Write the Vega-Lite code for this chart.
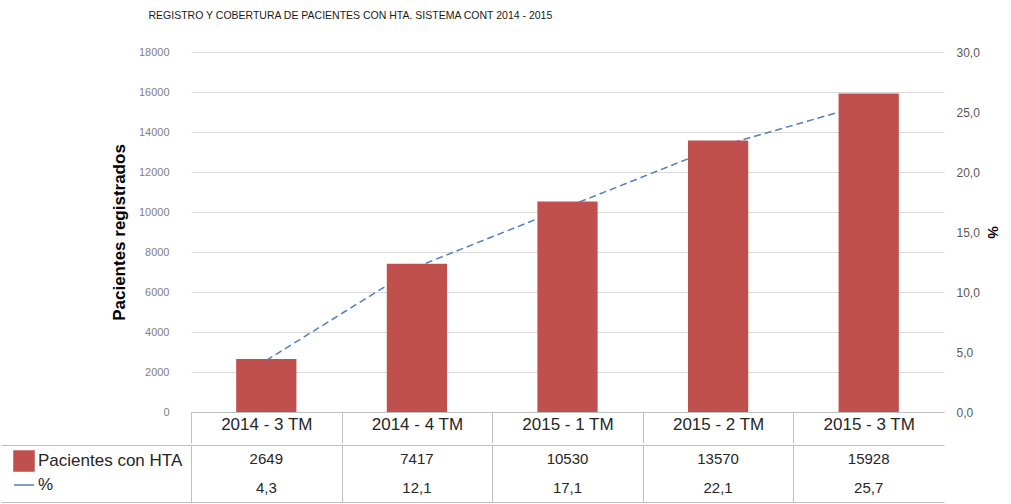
{
  "$schema": "https://vega.github.io/schema/vega-lite/v6.json",
  "padding": {"left": 0, "top": 10, "right": 0, "bottom": 0},
  "background": "white",
  "config": {
    "font": "Liberation Sans",
    "view": {"stroke": null},
    "locale": {"number": {"decimal": ",", "thousands": ".", "grouping": [3], "currency": ["$", ""]}}
  },
  "title": {
    "text": "REGISTRO Y COBERTURA DE PACIENTES CON HTA. SISTEMA CONT 2014 - 2015",
    "anchor": "start",
    "dx": 148,
    "fontSize": 10.5,
    "fontWeight": "normal",
    "color": "#1a1a1a",
    "offset": 25
  },
  "data": {
    "values": [
      {"periodo": "2014 - 3 TM", "pacientes": 2649, "pct": 4.3},
      {"periodo": "2014 - 4 TM", "pacientes": 7417, "pct": 12.1},
      {"periodo": "2015 - 1 TM", "pacientes": 10530, "pct": 17.1},
      {"periodo": "2015 - 2 TM", "pacientes": 13570, "pct": 22.1},
      {"periodo": "2015 - 3 TM", "pacientes": 15928, "pct": 25.7}
    ]
  },
  "spacing": 0,
  "resolve": {"scale": {"stroke": "independent"}, "legend": {"stroke": "independent"}},
  "vconcat": [
    {
      "width": 753,
      "height": 360,
      "resolve": {"scale": {"y": "independent"}},
      "layer": [
        {
          "mark": {"type": "line", "strokeDash": [7, 4], "strokeWidth": 1.5, "color": "#4F81BD"},
          "encoding": {
            "x": {
              "field": "periodo", "type": "nominal", "sort": null,
              "scale": {"paddingInner": 0, "paddingOuter": 0},
              "axis": {
                "title": null, "labelFontSize": 17, "labelColor": "#262626", "labelPadding": -27,
                "labelAngle": 0, "tickSize": 31, "tickBand": "extent",
                "tickColor": {"condition": {"test": "datum.value === '2015 - 3 TM'", "value": "transparent"}, "value": "#bfbfbf"},
                "domainColor": "#bfbfbf", "grid": false
              }
            },
            "y": {
              "field": "pct", "type": "quantitative",
              "scale": {"domain": [0, 30], "nice": false},
              "axis": {
                "orient": "right", "values": [0, 5, 10, 15, 20, 25, 30], "format": ".1f",
                "grid": false, "domain": false, "ticks": false, "labelPadding": 12,
                "labelFontSize": 12, "labelColor": "#595959",
                "title": "%", "titleFontSize": 14, "titleFontWeight": "bold", "titleColor": "#000000", "titlePadding": 5
              }
            }
          }
        },
        {
          "mark": {"type": "bar", "width": {"band": 0.4}, "color": "#C0504D"},
          "encoding": {
            "x": {
              "field": "periodo", "type": "nominal", "sort": null,
              "scale": {"paddingInner": 0, "paddingOuter": 0},
              "axis": {
                "title": null, "labelFontSize": 17, "labelColor": "#262626", "labelPadding": -27,
                "labelAngle": 0, "tickSize": 31, "tickBand": "extent",
                "tickColor": {"condition": {"test": "datum.value === '2015 - 3 TM'", "value": "transparent"}, "value": "#bfbfbf"},
                "domainColor": "#bfbfbf", "grid": false
              }
            },
            "y": {
              "field": "pacientes", "type": "quantitative",
              "scale": {"domain": [0, 18000], "nice": false},
              "axis": {
                "orient": "left", "values": [0, 2000, 4000, 6000, 8000, 10000, 12000, 14000, 16000, 18000],
                "format": "d", "grid": true, "gridColor": "#d9d9d9", "domain": false, "ticks": false,
                "labelPadding": 22, "labelFontSize": 11, "labelColor": "#7f7f7f",
                "title": "Pacientes registrados", "titleFontSize": 17, "titleFontWeight": "bold",
                "titleColor": "#000000", "titlePadding": 10
              }
            }
          }
        }
      ]
    },
    {
      "width": 753,
      "height": 57,
      "layer": [
        {
          "mark": {"type": "text", "fontSize": 15, "color": "#262626"},
          "encoding": {
            "x": {
              "field": "periodo", "type": "nominal", "sort": null,
              "scale": {"paddingInner": 0, "paddingOuter": 0},
              "axis": {
                "title": null, "labels": false, "ticks": false, "domain": false, "grid": true, "tickBand": "extent",
                "gridColor": {"condition": {"test": "datum.value === '2015 - 3 TM'", "value": "transparent"}, "value": "#bfbfbf"}
              }
            },
            "y": {
              "datum": "Pacientes con HTA", "type": "nominal",
              "scale": {"domain": ["Pacientes con HTA", "%"], "paddingInner": 0, "paddingOuter": 0},
              "axis": {
                "title": null, "labels": false, "tickSize": 190, "tickBand": "extent",
                "tickColor": {"condition": {"test": "datum.value === 'Pacientes con HTA'", "value": "transparent"}, "value": "#bfbfbf"},
                "grid": true,
                "gridColor": {"condition": {"test": "datum.value === 'Pacientes con HTA'", "value": "transparent"}, "value": "#bfbfbf"},
                "domain": true, "domainColor": "#bfbfbf"
              }
            },
            "text": {"field": "pacientes", "type": "quantitative", "format": "d"}
          }
        },
        {
          "mark": {"type": "text", "fontSize": 15, "color": "#262626"},
          "encoding": {
            "x": {"field": "periodo", "type": "nominal", "sort": null},
            "y": {"datum": "%", "type": "nominal"},
            "text": {"field": "pct", "type": "quantitative", "format": ".1f"}
          }
        },
        {
          "mark": {"type": "text", "fontSize": 15, "fill": "#C0504D", "strokeWidth": 0},
          "encoding": {
            "x": {"field": "periodo", "type": "nominal", "sort": null},
            "y": {"datum": "Pacientes con HTA", "type": "nominal"},
            "text": {"value": ""},
            "stroke": {
              "datum": "Pacientes con HTA", "type": "nominal",
              "scale": {"domain": ["Pacientes con HTA", "%"], "range": ["#C0504D", "#4F81BD"]},
              "legend": {
                "orient": "none", "legendX": -178, "legendY": 5, "title": null, "direction": "vertical",
                "labelFontSize": 17, "labelColor": "#262626", "rowPadding": 0, "padding": 0, "offset": 0,
                "labelOffset": 3, "symbolSize": 400, "symbolStrokeWidth": 1.5, "symbolOpacity": 1,
                "symbolType": {"expr": "datum.value === '%' ? 'stroke' : 'square'"},
                "symbolFillColor": {"expr": "datum.value === '%' ? 'transparent' : '#C0504D'"},
                "symbolStrokeColor": {"expr": "datum.value === '%' ? '#4F81BD' : 'transparent'"}
              }
            }
          }
        }
      ]
    }
  ]
}
